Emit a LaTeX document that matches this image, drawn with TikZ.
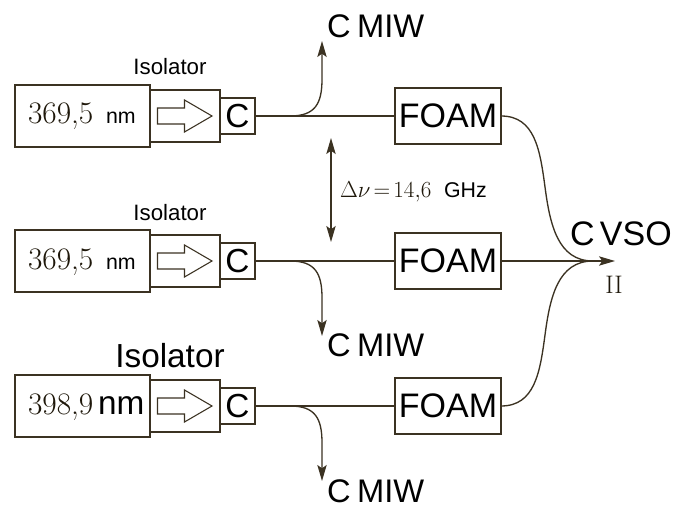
\documentclass[tikz,border=0pt]{standalone}
\usepackage{fontspec}
\setsansfont{Liberation Sans}
\usetikzlibrary{arrows.meta}
\definecolor{ink}{HTML}{3B3222}
\definecolor{numink}{HTML}{1E170A}
\newcommand{\szt}[1]{\fontsize{#1}{#1}\selectfont}
\tikzset{
 x=0.75pt,y=-0.75pt,
 boxit/.style={draw=ink,line width=1pt,fill=white,inner sep=0pt,outer sep=0pt,anchor=north west},
 wire/.style={draw=ink,line width=1pt},
 tipped/.style={wire,-{Stealth[length=12pt,width=7pt,inset=2.5pt]}},
 bothtip/.style={wire,{Stealth[length=12pt,width=7pt,inset=2.5pt]}-{Stealth[length=12pt,width=7pt,inset=2.5pt]}},
 hollow/.style={draw=ink,line width=0.8pt,fill=white},
 lab/.style={inner sep=0pt,outer sep=0pt,text=black,font=\sffamily},
 num/.style={inner sep=0pt,outer sep=0pt,text=numink},
}
\newcommand{\rowpart}[3]{% id, wire y, wavelength content
  \node[boxit,minimum width=70*0.75pt,minimum height=52*0.75pt] (iso#1) at (150,#2-26) {};
  \node[boxit,minimum width=135*0.75pt,minimum height=62*0.75pt] (las#1) at (15,#2-31) {};
  \node[boxit,minimum width=35*0.75pt,minimum height=36*0.75pt,font=\sffamily\szt{25}] (c#1) at (220,#2-18) {C};
  \node[boxit,minimum width=106*0.75pt,minimum height=56*0.75pt,font=\sffamily\szt{25.5}] (foam#1) at (395,#2-28) {FOAM};
  \draw[hollow] (157.5,#2-8) -- (184.5,#2-8) -- (184.5,#2-16) -- (212,#2) -- (184.5,#2+16) -- (184.5,#2+8) -- (157.5,#2+8) -- cycle;
  \draw[wire] (c#1.east) -- (foam#1.west);
}
\begin{document}
\begin{tikzpicture}
\useasboundingbox[fill=white] (0,0) rectangle (674,506);
\rowpart{a}{116}{}
\rowpart{b}{261}{}
\rowpart{c}{406}{}
% wavelength labels
\node[num,font=\szt{23.5},anchor=base west] (wa) at (28,124) {369,5};
\node[lab,font=\sffamily\szt{16},anchor=base west] (na) at (106,124) {nm};
\node[num,font=\szt{23.5},anchor=base west] (wb) at (28,269) {369,5};
\node[lab,font=\sffamily\szt{16},anchor=base west] (nb) at (106,269) {nm};
\node[num,font=\szt{23.5},anchor=base west] (wc) at (28,414) {398,9};
\node[lab,font=\sffamily\szt{25},anchor=base west] (nc) at (98,414) {nm};
% isolator labels
\node[lab,font=\sffamily\szt{16.7},anchor=base] (ia) at (170,75) {Isolator};
\node[lab,font=\sffamily\szt{16.7},anchor=base] (ib) at (170,220) {Isolator};
\node[lab,font=\sffamily\szt{25},anchor=base] (ic) at (170,367) {Isolator};
% output labels
\node[lab,font=\sffamily\szt{24.5},anchor=base west] (ma) at (327,38) {C\hspace{0.2em}MIW};
\node[lab,font=\sffamily\szt{24.5},anchor=base west] (mb) at (327,356) {C\hspace{0.2em}MIW};
\node[lab,font=\sffamily\szt{24.5},anchor=base west] (mc) at (327,502) {C\hspace{0.2em}MIW};
\node[lab,font=\sffamily\szt{25.5},anchor=base west] (vso) at (570,245) {C\hspace{0.16em}VSO};
\node[num,font=\szt{19},anchor=base] (two) at (614,293) {II};
\node[num,font=\szt{18.5},anchor=base west] (dnu) at (340,197) {$\Delta\nu\mskip2.5mu{=}\mskip2.5mu 14{,}6$};
\node[lab,font=\sffamily\szt{16},anchor=base west] (ghz) at (444,197) {GHz};
% coordinates for free ends
\coordinate (ta) at (322,41);
\coordinate (tb) at (322,336);
\coordinate (tc) at (322,481);
\coordinate (up) at (331,138);
\coordinate (dn) at (331,242);
\coordinate (out) at (615,261);
\coordinate (join) at (593,261);
\draw[tipped] (290,116) .. controls (315,116) and (322,104) .. (322,79) -- (ta);
\draw[tipped] (290,261) .. controls (315,261) and (322,273) .. (322,298) -- (tb);
\draw[tipped] (290,406) .. controls (315,406) and (322,418) .. (322,443) -- (tc);
\draw[bothtip] (up) -- (dn);
\draw[tipped] (foamb.east) -- (out);
\draw[wire] (foama.east) .. controls (535,116) and (540,150) .. (545,187) .. controls (550,225) and (558,261) .. (join);
\draw[wire] (foamc.east) .. controls (535,406) and (540,372) .. (545,335) .. controls (550,297) and (558,261) .. (join);
\end{tikzpicture}
\end{document}
